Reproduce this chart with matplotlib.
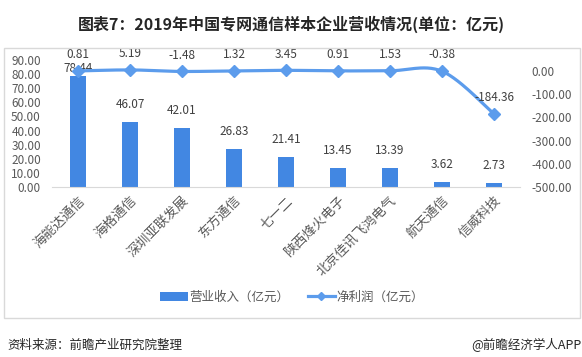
import numpy as np
import matplotlib
matplotlib.use("Agg")
import matplotlib.pyplot as plt
from matplotlib.patches import Rectangle
from matplotlib.lines import Line2D
from matplotlib.patches import Patch

plt.rcParams['font.family'] = ['Noto Sans CJK SC', 'DejaVu Sans']

companies = ["海能达通信", "海格通信", "深圳亚联发展", "东方通信", "七一二",
             "陕西烽火电子", "北京佳讯飞鸿电气", "航天通信", "信威科技"]
revenue = [78.44, 46.07, 42.01, 26.83, 21.41, 13.45, 13.39, 3.62, 2.73]
profit = [0.81, 5.19, -1.48, 1.32, 3.45, 0.91, 1.53, -0.38, -184.36]
left_ticks = [0, 10, 20, 30, 40, 50, 60, 70, 80, 90]
right_ticks = [0, -100, -200, -300, -400, -500]

W, H = 582, 357
fig = plt.figure(figsize=(W / 100, H / 100), dpi=100)

bar_color = "#4287E2"
line_color = "#5C9CEC"
txt_color = "#595959"

# outer frame
fig.patches.append(Rectangle((4 / W, 1 - 318 / H), 576 / W, 270 / H,
                             transform=fig.transFigure, fill=False,
                             edgecolor="#D9D9D9", linewidth=1.0))

ax = fig.add_axes([52 / W, 1 - 187 / H, 468 / W, 127 / H])
x = np.arange(len(companies))
ax.bar(x, revenue, width=0.31, color=bar_color, zorder=2)
ax.set_xlim(-0.5, len(companies) - 0.5)
ax.set_ylim(0, 90)
ax.set_yticks(left_ticks)
ax.set_yticklabels([f"{v:.2f}" for v in left_ticks])
ax.tick_params(axis='y', length=0, labelsize=8.5, colors=txt_color, pad=8)
ax.tick_params(axis='x', length=0, labelsize=9.5, colors=txt_color, pad=5)
ax.set_xticks(x)
ax.set_xticklabels(companies, rotation=45, ha='right', va='top', rotation_mode='anchor')
for s in ['top', 'left', 'right']:
    ax.spines[s].set_visible(False)
ax.spines['bottom'].set_color("#D9D9D9")
ax.patch.set_alpha(0)

for i, v in enumerate(revenue):
    off = 1 if i == 0 else 8
    ax.annotate(f"{v:.2f}", (x[i], v), xytext=(0, off), textcoords='offset points',
                ha='center', va='bottom', fontsize=8.5, color="#404040")

ax2 = ax.twinx()
ax2.set_ylim(-500, 48)
ax2.set_yticks(right_ticks)
ax2.set_yticklabels([f"{v:.2f}" for v in right_ticks])
ax2.tick_params(axis='y', length=0, labelsize=8.5, colors=txt_color, pad=8)
for s in ['top', 'left', 'right', 'bottom']:
    ax2.spines[s].set_visible(False)

# smoothed line (Catmull-Rom in display space, like Excel smoothing)
fig.canvas.draw()
pts = ax2.transData.transform(np.column_stack([x, profit]))
P = np.vstack([pts[0], pts, pts[-1]])
curve = []
t = np.linspace(0, 1, 30)
for i in range(1, len(P) - 2):
    p0, p1, p2, p3 = P[i - 1], P[i], P[i + 1], P[i + 2]
    m1 = (p2 - p0) / 2
    m2 = (p3 - p1) / 2
    h00 = 2 * t**3 - 3 * t**2 + 1
    h10 = t**3 - 2 * t**2 + t
    h01 = -2 * t**3 + 3 * t**2
    h11 = t**3 - t**2
    seg = (h00[:, None] * p1 + h10[:, None] * m1 + h01[:, None] * p2 + h11[:, None] * m2)
    curve.append(seg)
curve = np.vstack(curve)
cd = ax2.transData.inverted().transform(curve)
ax2.plot(cd[:, 0], cd[:, 1], color=line_color, linewidth=2.3, zorder=3, solid_capstyle='round')
ax2.plot(x, profit, linestyle='none', marker='D', markersize=6.5, color=line_color, zorder=4)

for i, v in enumerate(profit):
    ax2.annotate(f"{v:.2f}", (x[i], v), xytext=(0, 7), textcoords='offset points',
                 ha='center', va='bottom', fontsize=8.5, color="#404040")

# legend
handles = [Patch(facecolor=bar_color, edgecolor='none'),
           Line2D([0], [0], color=line_color, linewidth=2.3, marker='D', markersize=4)]
fig.legend(handles, ["营业收入（亿元）", "净利润（亿元）"], loc='center',
           bbox_to_anchor=(292 / W, 1 - 297 / H), ncol=2, frameon=False,
           fontsize=9, labelcolor=txt_color, handlelength=2.2, columnspacing=1.5,
           handletextpad=0.1)

fig.text(0.5, 1 - 24 / H, "图表7：2019年中国专网通信样本企业营收情况(单位：亿元)",
         ha='center', va='center', fontsize=11.5, fontweight='bold', color="#262626")
fig.text(7 / W, 1 - 345 / H, "资料来源：前瞻产业研究院整理", ha='left', va='center',
         fontsize=9, color="#262626")
fig.text(581 / W, 1 - 345 / H, "@前瞻经济学人APP", ha='right', va='center',
         fontsize=9, color="#262626")

fig.savefig("out.png", dpi=100)
